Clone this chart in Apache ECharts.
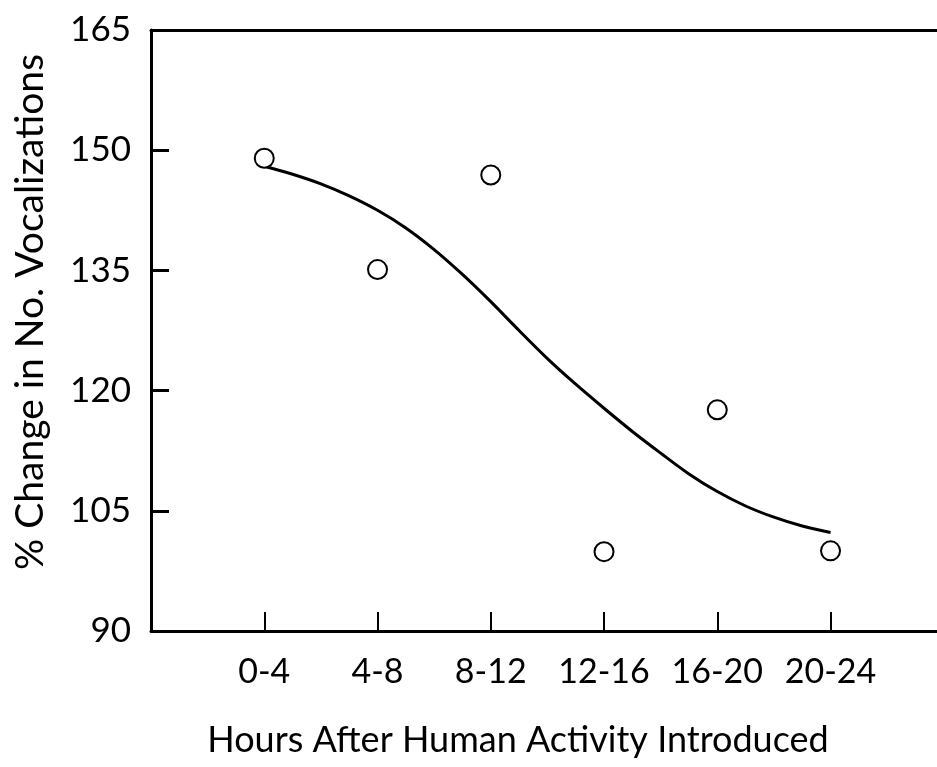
<!DOCTYPE html>
<html>
<head>
<meta charset="utf-8">
<script src="https://cdn.jsdelivr.net/npm/echarts@6/dist/echarts.min.js"></script>
<style>html,body{margin:0;padding:0;background:#fff}#c{width:937px;height:767px}</style>
</head>
<body>
<div id="c"></div>
<script>
const categories = ['0-4', '4-8', '8-12', '12-16', '16-20', '20-24'];
const observed = [149.0, 135.1, 146.9, 99.9, 117.6, 100.0];
const curveX = [0, 0.25, 0.5, 0.75, 1.0, 1.25, 1.5, 1.75, 2.0, 2.25, 2.5, 2.75, 3.0, 3.25, 3.5, 3.75, 4.0, 4.25, 4.5, 4.75, 5.0];
const curveY = [148.0, 147.0, 145.8, 144.3, 142.5, 140.3, 137.6, 134.5, 131.1, 127.5, 124.0, 120.8, 117.8, 114.9, 112.2, 109.6, 107.4, 105.6, 104.2, 103.1, 102.3];
const yTicks = [90, 105, 120, 135, 150, 165];
const xTitle = 'Hours After Human Activity Introduced';
const yTitle = '% Change in No. Vocalizations';

const FONT = "'Lato', sans-serif";
const chart = echarts.init(document.getElementById('c'), null, {renderer: 'canvas'});
chart.setOption({
  animation: false,
  backgroundColor: '#fff',
  grid: {left: 151, top: 30, right: 0, bottom: 136, containLabel: false},
  xAxis: [{
    type: 'value', min: -1, max: 5.94, interval: 1,
    axisLine: {show: true, onZero: false, lineStyle: {color: '#000', width: 3}},
    axisTick: {show: true, inside: true, length: 19, lineStyle: {color: '#000', width: 2}},
    splitLine: {show: false},
    axisLabel: {
      color: '#000', fontSize: 34, fontFamily: FONT, margin: 24,
      showMinLabel: true, showMaxLabel: false,
      formatter: v => (Number.isInteger(v) && v >= 0 && v < categories.length) ? categories[v] : ''
    }
  }, {
    type: 'value', position: 'top', min: -1, max: 5.94,
    axisLine: {show: true, onZero: false, lineStyle: {color: '#000', width: 3}},
    axisTick: {show: false}, axisLabel: {show: false}, splitLine: {show: false}
  }],
  yAxis: {
    type: 'value', min: yTicks[0], max: yTicks[yTicks.length - 1], interval: 15,
    axisLine: {show: true, onZero: false, lineStyle: {color: '#000', width: 3}},
    axisTick: {show: true, inside: true, length: 18, lineStyle: {color: '#000', width: 3}},
    splitLine: {show: false},
    axisLabel: {color: '#000', fontSize: 35, fontFamily: FONT, margin: 20}
  },
  graphic: [
    {type: 'text', x: 518, y: 740,
      style: {text: xTitle, fill: '#000', fontSize: 36, fontFamily: FONT, align: 'center', verticalAlign: 'middle'}},
    {type: 'text', x: 30, y: 312, rotation: Math.PI / 2,
      style: {text: yTitle, fill: '#000', fontSize: 39, fontFamily: FONT, align: 'center', verticalAlign: 'middle'}}
  ],
  series: [{
    type: 'line', xAxisIndex: 0,
    data: curveX.map((x, i) => [x, curveY[i]]),
    smooth: 0.3, showSymbol: false,
    lineStyle: {color: '#000', width: 3}, z: 2
  }, {
    type: 'scatter', xAxisIndex: 0,
    data: observed.map((v, i) => [i, v]),
    symbol: 'circle', symbolSize: 19,
    itemStyle: {color: '#fff', borderColor: '#000', borderWidth: 2, opacity: 1}, z: 3
  }]
});
</script>
</body>
</html>
